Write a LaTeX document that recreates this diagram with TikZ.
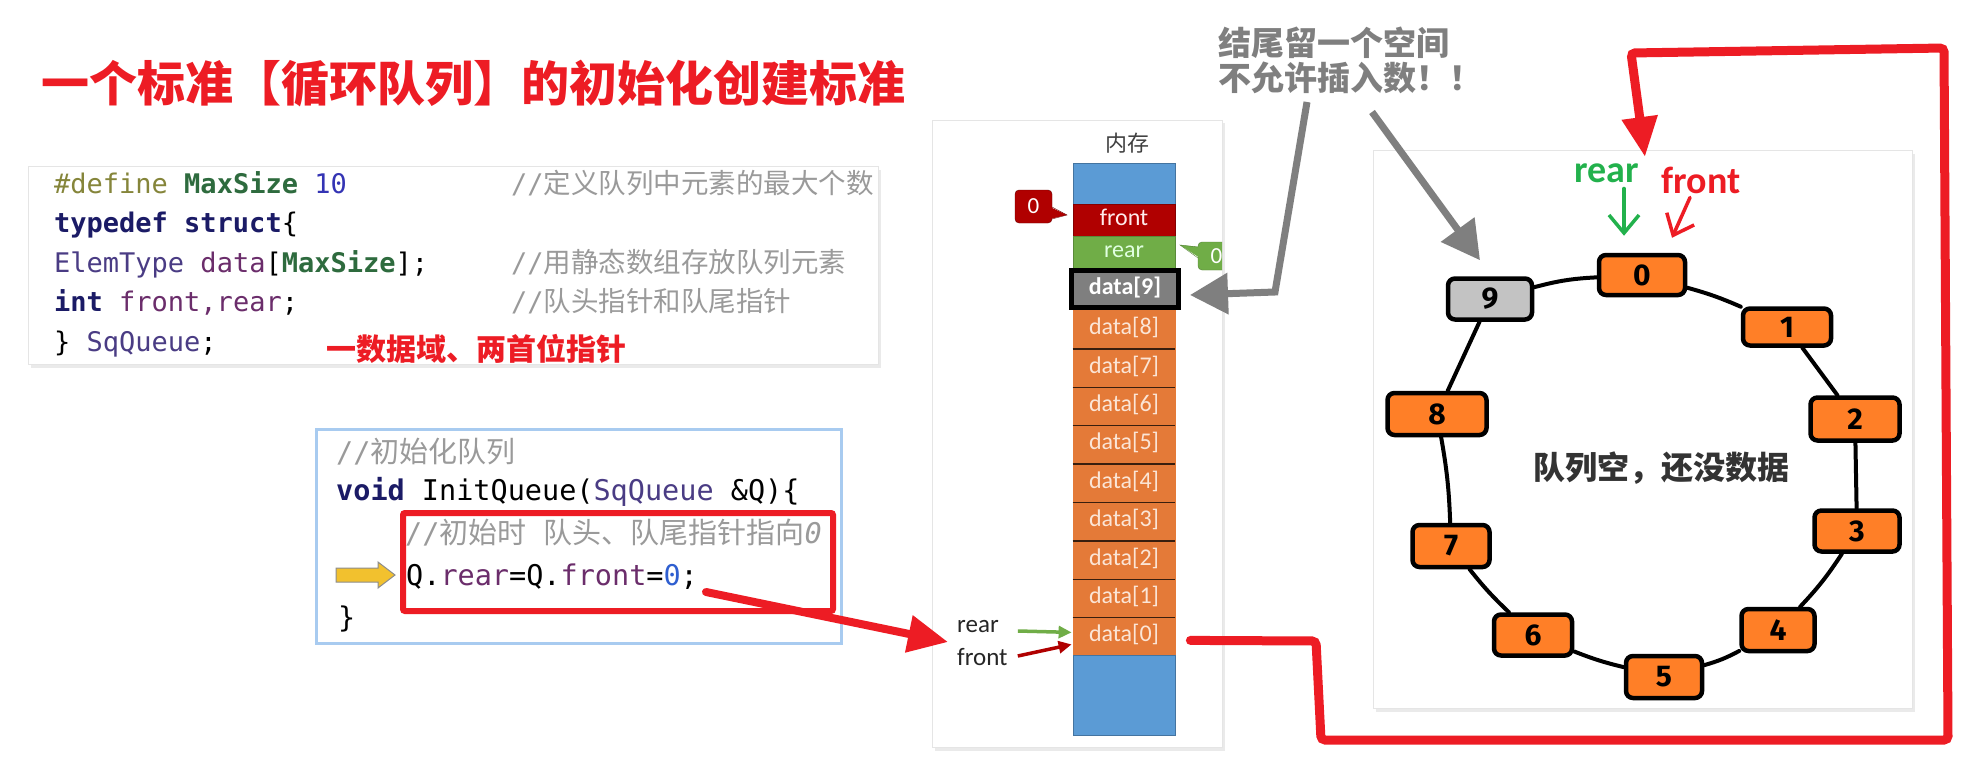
\documentclass[tikz,border=0pt]{standalone}
\usepackage{fontspec}
\setmainfont{Carlito}
\newfontfamily\cjk{Noto Sans CJK SC}
\newfontfamily\mono{DejaVu Sans Mono}
\newfontfamily\handfont{Fira Sans}
\usetikzlibrary{arrows.meta,calc,shadows}
\definecolor{tred}{HTML}{ED1C24}
\definecolor{cOlive}{HTML}{85853A}
\definecolor{cGreen}{HTML}{2E6B3E}
\definecolor{cBlue}{HTML}{3434B4}
\definecolor{cNavy}{HTML}{1B1B66}
\definecolor{cPurp}{HTML}{4A3C84}
\definecolor{cMag}{HTML}{6B2D6B}
\definecolor{cCom}{HTML}{9A9A9A}
\definecolor{cZero}{HTML}{2F5FD0}
\definecolor{memBlue}{HTML}{5B9BD5}
\definecolor{memRed}{HTML}{B00000}
\definecolor{memGreen}{HTML}{70AD47}
\definecolor{memOrange}{HTML}{E47A38}
\definecolor{memGray}{HTML}{7F7F7F}
\definecolor{cellText}{HTML}{FBE5D6}
\definecolor{qOrange}{HTML}{FF7F27}
\definecolor{qGray}{HTML}{C3C3C3}
\definecolor{pGreen}{HTML}{22B14C}
\definecolor{noteGray}{HTML}{7F7F7F}
\definecolor{yel}{HTML}{F2C12E}
\definecolor{boxBlue}{HTML}{A8CBF0}
\newcommand\cjc[1]{{\cjk\fontsize{29}{29}\selectfont #1}}
\newcommand\cjd[1]{{\cjk\fontsize{27.5}{27.5}\selectfont #1}}
\begin{document}
\begin{tikzpicture}[x=1pt,y=-1pt,
  panel/.style={fill=white, draw=black!10, line width=1, inner sep=0, anchor=north west,
    drop shadow={opacity=0.16, shadow xshift=2pt, shadow yshift=-3pt}},
  codeA/.style={anchor=base west, inner sep=0, font=\mono\fontsize{27}{27}\selectfont},
  codeB/.style={anchor=base west, inner sep=0, font=\mono\fontsize{28.5}{28.5}\selectfont},
  cellbox/.style={minimum width=102, inner sep=0, line width=0.8, text height=16pt, text depth=5pt,
    font=\fontsize{24}{24}\selectfont},
  dcell/.style={cellbox, fill=memOrange, draw=memOrange, minimum height=38.4, text=cellText},
  divider/.style={draw=black!75!memOrange, line width=1.4},
  qbox/.style={draw=black, line width=4.5, fill=qOrange, rounded corners=7, inner sep=0,
    font=\handfont\bfseries\fontsize{30}{30}\selectfont},
  link/.style={draw=black, line width=4, line cap=round},
  grayarrow/.style={draw=noteGray, line width=7, -{Triangle[length=38pt,width=40pt]}},
  redarrow/.style={draw=tred, line width=8, line cap=round, -{Triangle[length=40pt,width=36pt]}},
  redpath/.style={draw=tred, line width=9, line cap=round, rounded corners=4, -{Triangle[length=40pt,width=34pt]}},
  barb/.style={line width=3.5, line cap=round, -{Straight Barb[length=18pt,width=30pt]}}
]
\useasboundingbox (0,0) rectangle (1969,773);
\fill[white] (0,0) rectangle (1969,773);

% title
\node[anchor=base west, inner sep=0, text=tred, font=\cjk\bfseries\fontsize{48}{48}\selectfont] (title) at (41,102) {一个标准【循环队列】的初始化创建标准};

% code box 1
\node[panel, minimum width=850, minimum height=198] (code1) at (28,166) {};
\node[codeA] (c1l1) at (54,193) {{\color{cOlive}\#define} {\bfseries\color{cGreen}MaxSize} {\color{cBlue}10}};
\node[codeA] (c1l2) at (54,232.5) {{\bfseries\color{cNavy}typedef struct}\{};
\node[codeA] (c1l3) at (54,272) {{\color{cPurp}ElemType} {\color{cMag}data}[{\bfseries\color{cGreen}MaxSize}];};
\node[codeA] (c1l4) at (54,311.5) {{\bfseries\color{cNavy}int} {\color{cMag}front,rear};};
\node[codeA] (c1l5) at (54,351) {\} {\color{cPurp}SqQueue};};
\node[codeA, text=cCom] (c1m1) at (511,193) {//\cjd{定义队列中元素的最大个数}};
\node[codeA, text=cCom] (c1m3) at (511,272) {//\cjd{用静态数组存放队列元素}};
\node[codeA, text=cCom] (c1m4) at (511,311.5) {//\cjd{队头指针和队尾指针}};
\node[anchor=base west, inner sep=0, text=tred, font=\cjk\bfseries\fontsize{30}{30}\selectfont] (fields) at (326,360) {一数据域、两首位指针};

% code box 2
\node[fill=white, draw=boxBlue, line width=2.5, inner sep=0, anchor=north west, minimum width=525, minimum height=214] (code2) at (315,428) {};
\node[codeB, text=cCom] (c2l1) at (336,462) {//\cjc{初始化队列}};
\node[codeB] (c2l2) at (336,500) {{\bfseries\color{cNavy}void} InitQueue({\color{cPurp}SqQueue} \&Q)\{};
\node[codeB, text=cCom] (c2l3) at (405,543) {//\cjc{初始时}~\cjc{队头、队尾指针指向}\itshape 0};
\node[codeB] (c2l4) at (406,585) {Q.{\color{cMag}rear}=Q.{\color{cMag}front}={\color{cZero}0};};
\node[codeB] (c2l5) at (338,627) {\}};
\node[draw=tred, line width=6, rounded corners=2, inner sep=0, anchor=north west, minimum width=430, minimum height=98] (hl) at (400,510) {};
\filldraw[fill=yel, draw=black!45, line width=1] (336,568) -- (378,568) -- (378,562) -- (395,575) -- (378,588) -- (378,582) -- (336,582) -- cycle;

% memory panel
\node[panel, minimum width=290, minimum height=627] (mem) at (932,120) {};
\node[font=\cjk\fontsize{22}{22}\selectfont, text=black!75] (memlabel) at (1127,143) {内存};
\node[cellbox, fill=memBlue, draw=memBlue!75!black, minimum height=41] (mtop) at (1124,183.5) {};
\node[cellbox, fill=memRed, draw=memRed!75!black, minimum height=32, text=white!92!red] (mfront) at (1124,220) {front};
\node[cellbox, fill=memGreen, draw=memGreen!80!black, minimum height=32, text=white!88!green] (mrear) at (1124,252) {rear};
\node[dcell] (d8) at (1124,329.2) {data[8]};
\node[dcell] (d7) at (1124,367.6) {data[7]};
\node[dcell] (d6) at (1124,406.0) {data[6]};
\node[dcell] (d5) at (1124,444.4) {data[5]};
\node[dcell] (d4) at (1124,482.8) {data[4]};
\node[dcell] (d3) at (1124,521.2) {data[3]};
\node[dcell] (d2) at (1124,559.6) {data[2]};
\node[dcell] (d1) at (1124,598.0) {data[1]};
\node[dcell] (d0) at (1124,636.4) {data[0]};
\node[cellbox, fill=memBlue, draw=memBlue!75!black, minimum height=79.4] (mbot) at (1124,695.3) {};
\foreach \c in {d8,d7,d6,d5,d4,d3,d2,d1}{\draw[divider] (\c.south west) -- (\c.south east);}
\node[cellbox, fill=memGray, draw=black, line width=5, minimum width=107, minimum height=37, text=white, font=\bfseries\fontsize{24}{24}\selectfont] (d9) at (1125,289) {data[9]};

% callouts
\node[fill=memRed, draw=memRed!60!black, rounded corners=4, minimum width=37, minimum height=33, inner sep=0, text=white, font=\fontsize{23}{23}\selectfont] (cb0) at (1033.5,206.5) {0};
\fill[memRed] (1050,207) -- (1067,215) -- (1050,219) -- cycle;
\draw[memRed!60!black] (1052,207) -- (1067,215) -- (1052,219);
\begin{scope}
\clip (1170,230) rectangle (1222,282);
\node[fill=memGreen, draw=memGreen!75!black, rounded corners=4, minimum width=37, minimum height=28, inner sep=0, text=white, font=\fontsize{23}{23}\selectfont] (cb1) at (1216.5,256) {0};
\fill[memGreen] (1200,247) -- (1180,245) -- (1200,258) -- cycle;
\draw[memGreen!75!black] (1198,247) -- (1180,245) -- (1198,258);
\end{scope}

% rear/front pointers in memory
\node[anchor=west, inner sep=0, font=\fontsize{25}{25}\selectfont, text=black!85] (lrear) at (957,627) {rear};
\node[anchor=west, inner sep=0, font=\fontsize{25}{25}\selectfont, text=black!85] (lfront) at (957,657) {front};
\draw[memGreen, line width=3.5, -{Triangle[length=13pt,width=12pt]}] ($(lrear.east)+(19,4)$) -- ($(d0.west)+(-1,-4)$);
\draw[memRed, line width=3.5, -{Triangle[length=13pt,width=12pt]}] ($(lfront.east)+(10,-1)$) -- ($(d0.west)+(-1,8)$);

% circle panel
\node[panel, minimum width=539, minimum height=558] (circ) at (1373,150) {};
\node[qbox, minimum width=86, minimum height=40] (q0) at (1642,275) {0};
\node[qbox, fill=qGray, minimum width=84, minimum height=41] (q9) at (1490,299) {9};
\node[qbox, minimum width=88, minimum height=37] (q1) at (1787,327) {1};
\node[qbox, minimum width=99, minimum height=42] (q8) at (1437,414) {8};
\node[qbox, minimum width=89, minimum height=43] (q2) at (1855,419) {2};
\node[qbox, minimum width=85, minimum height=41] (q3) at (1857,531) {3};
\node[qbox, minimum width=77, minimum height=42] (q7) at (1451,546) {7};
\node[qbox, minimum width=78, minimum height=41] (q6) at (1533,635) {6};
\node[qbox, minimum width=73, minimum height=42] (q4) at (1778,630) {4};
\node[qbox, minimum width=76, minimum height=42] (q5) at (1664,677) {5};
\draw[link] (q9) to[bend left=6] (q0);
\draw[link] (q0) to[bend left=4] (q1);
\draw[link] (q1) -- (q2);
\draw[link] (q2) -- (q3);
\draw[link] (q3) to[bend left=5] (q4);
\draw[link] (q4) to[bend left=6] (q5);
\draw[link] (q5) to[bend left=4] (q6);
\draw[link] (q6) to[bend left=4] (q7);
\draw[link] (q7) to[bend right=4] (q8);
\draw[link] (q8) -- (q9);
\node[font=\cjk\bfseries\fontsize{32}{32}\selectfont, text=black!80, anchor=base, inner sep=0] (emptytxt) at (1661,479) {队列空，还没数据};
\node[anchor=base, inner sep=0, text=pGreen, font=\bfseries\fontsize{38}{38}\selectfont] (prear) at (1607,182) {rear};
\node[anchor=base, inner sep=0, text=tred, font=\bfseries\fontsize{38}{38}\selectfont] (pfront) at (1701,193) {front};
\draw[barb, pGreen] ($(prear.south)+(17,6)$) -- ($(q0.north)+(-18,-17)$);
\draw[barb, tred] ($(pfront.south)+(-11,4)$) -- ($(q0.north)+(30,-15)$);

% note and gray arrows
\node[anchor=base west, inner sep=0, text=noteGray, font=\cjk\bfseries\fontsize{33}{33}\selectfont] (note1) at (1218,55.5) {结尾留一个空间};
\node[anchor=base west, inner sep=0, text=noteGray, font=\cjk\bfseries\fontsize{33}{33}\selectfont] (note2) at (1218,91) {不允许插入数！！};
\coordinate (g1s) at (1307,102);
\coordinate (g2s) at (1372,112);
\draw[grayarrow] (g1s) -- (1275,292) -- ($(d9.east)+(9,6)$);
\draw[grayarrow] (g2s) -- ($(q9.north)+(-10,-16)$);

% red arrows
\coordinate (codeEnd) at (706,592);
\draw[redarrow] (codeEnd) -- ($(lrear.west)+(-9,15)$);
\coordinate (redtip) at (1645,157);
\draw[redpath] ($(d0.east)+(15,4)$) -- (1316,641) -- (1321,740) -- (1948,740) -- (1944,48) -- (1631,53) -- (redtip);
\end{tikzpicture}
\end{document}
